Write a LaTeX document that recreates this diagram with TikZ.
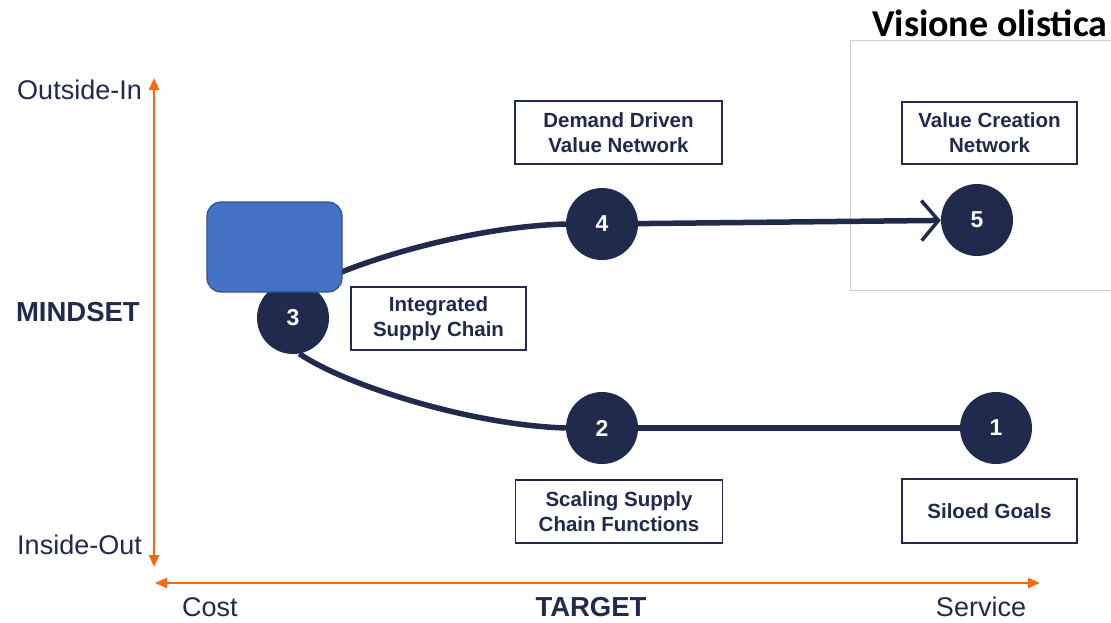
\documentclass[tikz,border=0pt]{standalone}
\usepackage{fontspec}
\setmainfont{Liberation Sans}
\newfontfamily\calibrifont{Carlito}
\usetikzlibrary{arrows.meta}
\definecolor{navy}{RGB}{31,42,77}
\definecolor{axisorange}{RGB}{250,102,18}
\definecolor{boxblue}{RGB}{68,114,196}
\definecolor{boxblueline}{RGB}{47,82,143}
\definecolor{framegray}{RGB}{205,205,205}
\begin{document}
\begin{tikzpicture}[x=1pt, y=-1pt,
  stage/.style={circle, fill=navy, minimum size=72pt, inner sep=0pt, text=white, font=\fontsize{23}{23}\selectfont\bfseries},
  stagebox/.style={draw=navy, line width=1.2pt, fill=white, align=center, inner sep=0pt, text=navy, font=\fontsize{20.5}{25}\selectfont\bfseries},
  axisline/.style={draw=axisorange, line width=2.6pt, {Triangle[length=12pt,width=10pt]}-{Triangle[length=12pt,width=10pt]}},
  track/.style={draw=navy, line width=5.5pt},
  axislabel/.style={text=navy, inner sep=0pt, font=\fontsize{27}{27}\selectfont},
  axisbold/.style={axislabel, font=\fontsize{27.5}{27.5}\selectfont\bfseries}]
\clip (0,0) rectangle (1111,622);

% Frame round the last stage
\draw[framegray, line width=1pt] (850,40) rectangle (1130,290);
\node[anchor=base west, inner sep=0pt, font=\calibrifont\bfseries\fontsize{38}{38}\selectfont] (vision) at (872,36) {Visione olistica};

% Axes
\coordinate (ytop) at (154,78);
\coordinate (ybot) at (154,567);
\coordinate (xleft) at (155,583);
\coordinate (xright) at (1040,583);
\draw[axisline] (ybot) -- (ytop);
\draw[axisline] (xleft) -- (xright);

% Stage nodes
\node[stage] (s1) at (996,428) {1};
\node[stage] (s2) at (602,428) {2};
\node[stage] (s3) at (293,318) {3};
\node[stage] (s4) at (602,224) {4};
\node[stage] (s5) at (977,220) {5};

% Connections
\draw[track] (s1) -- (s2);
\draw[track] (s2.west) .. controls (470,425) and (345,385) .. (s3.-80);
\draw[track] (s3.60) .. controls (340,268) and (460,227) .. (s4.west);
\draw[track, -{Straight Barb[length=17pt,width=40pt,line width=3.5pt]}] (s4) -- (s5);

% Stage boxes
\node[stagebox, minimum width=207pt, minimum height=63pt] (demand) at (618.5,132.5) {Demand Driven\\Value Network};
\node[stagebox, minimum width=175pt, minimum height=62pt] (creation) at (989.5,133) {Value Creation\\Network};
\node[stagebox, minimum width=175pt, minimum height=63pt] (integrated) at (438.5,318.5) {Integrated\\Supply Chain};
\node[stagebox, minimum width=207pt, minimum height=63pt] (scaling) at (619,511.5) {Scaling Supply\\Chain Functions};
\node[stagebox, minimum width=175pt, minimum height=64pt] (siloed) at (989.5,511) {Siloed Goals};

% Labels
\node[axislabel, anchor=east] (outin) at (142,90) {Outside-In};
\node[axislabel, anchor=east] (inout) at (142,545) {Inside-Out};
\node[axisbold, anchor=east] (mindset) at (140,312) {MINDSET};
\node[axislabel] (cost) at (210,607) {Cost};
\node[axisbold] (target) at (591,607) {TARGET};
\node[axislabel] (service) at (981,607) {Service};

% Blue box over stage 3
\node[draw=boxblueline, fill=boxblue, line width=1.2pt, rounded corners=14pt, minimum width=135pt, minimum height=90pt] (cover) at (274.5,247) {};
\end{tikzpicture}
\end{document}
